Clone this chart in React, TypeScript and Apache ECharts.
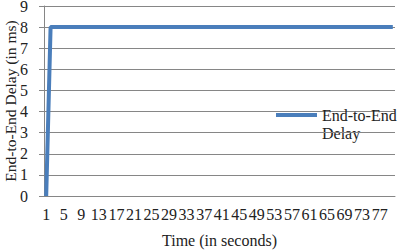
import React, { useEffect, useRef } from "react";
import * as echarts from "echarts";

const categories: string[] = [
  "1","2","3","4","5","6","7","8","9","10","11","12","13","14","15","16","17","18","19","20",
  "21","22","23","24","25","26","27","28","29","30","31","32","33","34","35","36","37","38","39","40",
  "41","42","43","44","45","46","47","48","49","50","51","52","53","54","55","56","57","58","59","60",
  "61","62","63","64","65","66","67","68","69","70","71","72","73","74","75","76","77","78","79","80",
];

const delayValues: number[] = [
  0, 8, 8, 8, 8, 8, 8, 8, 8, 8, 8, 8, 8, 8, 8, 8, 8, 8, 8, 8,
  8, 8, 8, 8, 8, 8, 8, 8, 8, 8, 8, 8, 8, 8, 8, 8, 8, 8, 8, 8,
  8, 8, 8, 8, 8, 8, 8, 8, 8, 8, 8, 8, 8, 8, 8, 8, 8, 8, 8, 8,
  8, 8, 8, 8, 8, 8, 8, 8, 8, 8, 8, 8, 8, 8, 8, 8, 8, 8, 8, 8,
];

const seriesName = "End-to-End Delay";
const font = "Liberation Serif";
const textColor = "#222";

export default function App() {
  const ref = useRef<HTMLDivElement>(null);
  useEffect(() => {
    if (!ref.current) return;
    const chart = echarts.init(ref.current, undefined, { renderer: "svg" });
    chart.setOption({
      animation: false,
      backgroundColor: "#ffffff",
      textStyle: { fontFamily: font },
      grid: { left: 44, right: 5, top: 6, bottom: 54, outerBoundsMode: "none", containLabel: false },
      legend: {
        left: 276,
        top: 107,
        padding: 0,
        icon: "rect",
        itemWidth: 41,
        itemHeight: 4,
        itemGap: 2,
        formatter: () => "End-to-End",
        textStyle: { fontFamily: font, fontSize: 16, color: textColor },
        data: [seriesName],
      },
      graphic: [
        {
          type: "text",
          left: 322,
          top: 125,
          style: { text: "Delay", fontFamily: font, fontSize: 16, fill: textColor },
        },
      ],
      xAxis: {
        type: "category",
        data: categories,
        boundaryGap: true,
        name: "Time (in seconds)",
        nameLocation: "middle",
        nameGap: 36,
        nameMoveOverlap: false,
        nameTextStyle: { fontFamily: font, fontSize: 16, color: textColor },
        axisLine: { lineStyle: { color: "#868686", width: 1 } },
        axisTick: { show: false },
        axisLabel: {
          interval: 3,
          fontFamily: font,
          fontSize: 16,
          color: textColor,
          margin: 10,
          hideOverlap: false,
        },
      },
      yAxis: {
        type: "value",
        min: 0,
        max: 9,
        interval: 1,
        name: "End-to-End Delay (in ms)",
        nameLocation: "middle",
        nameGap: 26,
        nameMoveOverlap: false,
        nameTextStyle: { fontFamily: font, fontSize: 15.5, color: textColor },
        axisLine: { show: true, lineStyle: { color: "#868686", width: 1 } },
        axisTick: { show: true, length: 5, lineStyle: { color: "#868686" } },
        axisLabel: { fontFamily: font, fontSize: 16, color: textColor, margin: 16 },
        splitLine: { lineStyle: { color: "#868686", width: 1 } },
      },
      series: [
        {
          name: seriesName,
          type: "line",
          data: delayValues,
          symbol: "none",
          lineStyle: { color: "#4a7ebb", width: 4 },
          itemStyle: { color: "#4a7ebb" },
        },
      ],
    });
    return () => chart.dispose();
  }, []);
  return <div ref={ref} style={{ width: 400, height: 250, position: "absolute", left: 0, top: 0 }} />;
}
